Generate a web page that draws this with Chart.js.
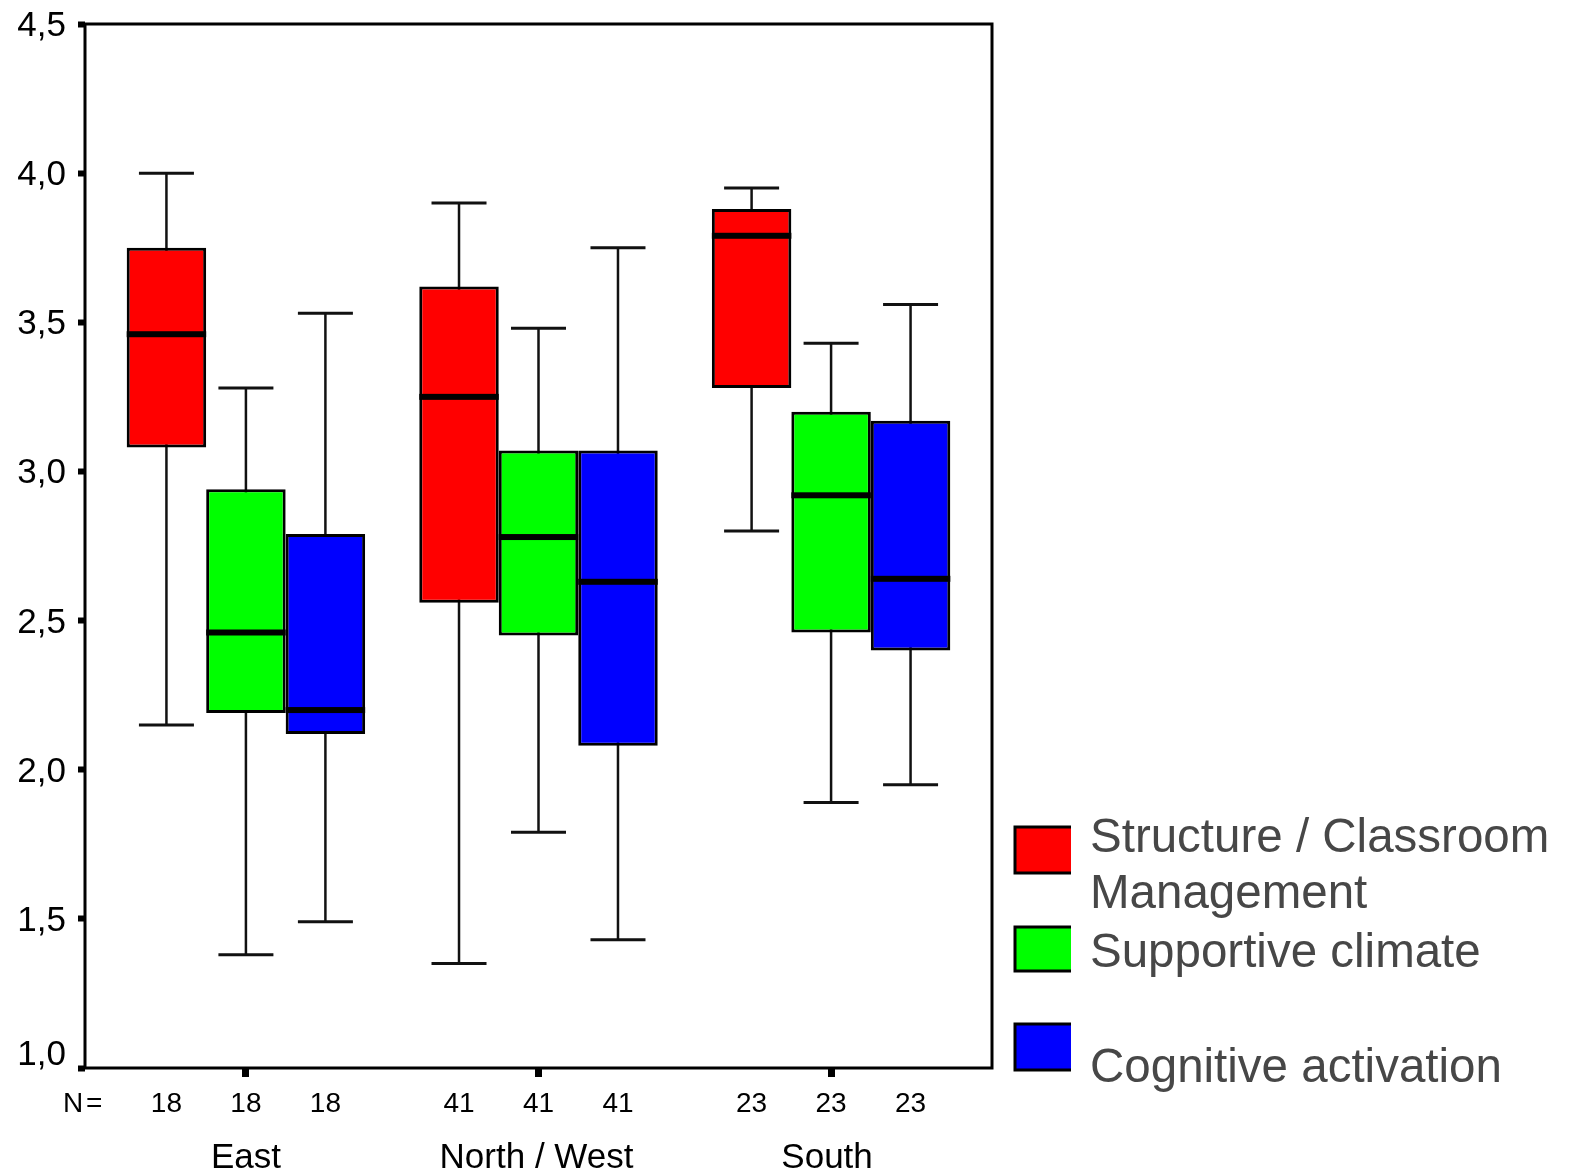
<!DOCTYPE html>
<html>
<head>
<meta charset="utf-8">
<title>Box plot by region</title>
<script src="https://cdn.jsdelivr.net/npm/chart.js@4.4.0/dist/chart.umd.min.js"></script>
<style>
    html, body { margin: 0; padding: 0; background: #ffffff; }
    #wrap { position: relative; width: 1569px; height: 1174px; }
</style>
</head>
<body>
<div id="wrap"><canvas id="boxChart"></canvas></div>
<script>
// Categories and group sizes
const regions = ['East', 'North / West', 'South'];
const counts = [18, 41, 23];

// Series
const seriesNames = [['Structure / Classroom', 'Management'], ['Supportive climate'], ['Cognitive activation']];
const seriesColors = ['#ff0000', '#00ff00', '#0000ff'];

// Y tick labels
const yTickValues = [1.0, 1.5, 2.0, 2.5, 3.0, 3.5, 4.0, 4.5];
const yTickLabels = ['1,0', '1,5', '2,0', '2,5', '3,0', '3,5', '4,0', '4,5'];

// Five-number summaries, one value per region
const structureMin = [2.15, 1.35, 2.80];
const structureQ1 = [3.08, 2.56, 3.28];
const structureMedian = [3.46, 3.25, 3.79];
const structureQ3 = [3.75, 3.62, 3.88];
const structureMax = [4.00, 3.90, 3.95];

const climateMin = [1.38, 1.79, 1.89];
const climateQ1 = [2.19, 2.45, 2.46];
const climateMedian = [2.46, 2.78, 2.92];
const climateQ3 = [2.94, 3.07, 3.20];
const climateMax = [3.28, 3.48, 3.43];

const cognitiveMin = [1.49, 1.43, 1.95];
const cognitiveQ1 = [2.12, 2.08, 2.40];
const cognitiveMedian = [2.20, 2.63, 2.64];
const cognitiveQ3 = [2.79, 3.07, 3.17];
const cognitiveMax = [3.53, 3.75, 3.56];

function makeBoxDataset(idx, q1, q3, min, max, median) {
    return {
        label: seriesNames[idx].join(' '),
        data: regions.map((r, i) => ({ x: i, y: [q1[i], q3[i]] })),
        whiskerLow: min,
        whiskerHigh: max,
        medians: median,
        backgroundColor: seriesColors[idx],
        borderColor: '#000000',
        borderWidth: 3,
        borderSkipped: false,
        barPercentage: 1,
        categoryPercentage: 0.815
    };
}

// Whiskers, medians, frame, labels and legend
const boxPlotExtras = {
    id: 'boxPlotExtras',
    beforeDatasetsDraw(chart) {
        const ctx = chart.ctx;
        const y = chart.scales.y;
        ctx.save();
        ctx.strokeStyle = '#111111';
        chart.data.datasets.forEach((ds, di) => {
            chart.getDatasetMeta(di).data.forEach((bar, i) => {
                const top = y.getPixelForValue(ds.whiskerHigh[i]);
                const bottom = y.getPixelForValue(ds.whiskerLow[i]);
                ctx.lineWidth = 2.5;
                ctx.beginPath();
                ctx.moveTo(bar.x, top);
                ctx.lineTo(bar.x, bottom);
                ctx.stroke();
                ctx.lineWidth = 3;
                ctx.beginPath();
                ctx.moveTo(bar.x - 27.5, top);
                ctx.lineTo(bar.x + 27.5, top);
                ctx.moveTo(bar.x - 27.5, bottom);
                ctx.lineTo(bar.x + 27.5, bottom);
                ctx.stroke();
            });
        });
        ctx.restore();
    },
    afterDatasetsDraw(chart) {
        const ctx = chart.ctx;
        const y = chart.scales.y;
        ctx.save();
        ctx.fillStyle = '#000000';
        chart.data.datasets.forEach((ds, di) => {
            chart.getDatasetMeta(di).data.forEach((bar, i) => {
                const my = y.getPixelForValue(ds.medians[i]);
                ctx.fillRect(bar.x - bar.width / 2, my - 3, bar.width, 6);
            });
        });
        ctx.restore();
    },
    afterDraw(chart) {
        const ctx = chart.ctx;
        const area = chart.chartArea;
        const x = chart.scales.x;
        const y = chart.scales.y;
        ctx.save();

        // frame
        ctx.strokeStyle = '#000000';
        ctx.lineWidth = 3;
        ctx.strokeRect(area.left, area.top, area.right - area.left, area.bottom - area.top);

        // y tick labels
        ctx.fillStyle = '#000000';
        ctx.font = '35px "Liberation Sans", Arial, sans-serif';
        ctx.textAlign = 'right';
        ctx.textBaseline = 'alphabetic';
        yTickValues.forEach((v, i) => {
            const py = y.getPixelForValue(v);
            const base = i === 0 ? py - 3 : py + 12;
            ctx.fillText(yTickLabels[i], 66, base);
        });

        // N = row
        ctx.font = '28px "Liberation Sans", Arial, sans-serif';
        ctx.textAlign = 'left';
        ctx.fillText('N', 63, 1112);
        ctx.fillText('=', 86, 1112);
        ctx.textAlign = 'center';
        chart.data.datasets.forEach((ds, di) => {
            chart.getDatasetMeta(di).data.forEach((bar, i) => {
                ctx.fillText(String(counts[i]), bar.x, 1112);
            });
        });

        // region labels
        ctx.font = '35px "Liberation Sans", Arial, sans-serif';
        regions.forEach((r, i) => {
            ctx.fillText(r, x.getPixelForValue(i) - 2 * i, 1168);
        });

        // legend
        const boxTops = [827, 927, 1024];
        const boxHeights = [46, 44, 46];
        const textBase = [[852, 908], [967], [1082]];
        ctx.font = '47.5px "Liberation Sans", Arial, sans-serif';
        ctx.textAlign = 'left';
        seriesNames.forEach((lines, i) => {
            const bx = 1015, bw = 56, by = boxTops[i], bh = boxHeights[i];
            ctx.fillStyle = seriesColors[i];
            ctx.fillRect(bx, by, bw, bh);
            ctx.strokeStyle = '#000000';
            ctx.lineWidth = 3;
            ctx.beginPath();
            ctx.moveTo(bx + bw, by);
            ctx.lineTo(bx, by);
            ctx.lineTo(bx, by + bh);
            ctx.lineTo(bx + bw, by + bh);
            ctx.stroke();
            ctx.fillStyle = '#474747';
            lines.forEach((t, k) => ctx.fillText(t, 1090, textBase[i][k]));
        });

        ctx.restore();
    }
};

const ctx = document.getElementById('boxChart');

new Chart(ctx, {
    type: 'bar',
    data: {
        datasets: [
            makeBoxDataset(0, structureQ1, structureQ3, structureMin, structureMax, structureMedian),
            makeBoxDataset(1, climateQ1, climateQ3, climateMin, climateMax, climateMedian),
            makeBoxDataset(2, cognitiveQ1, cognitiveQ3, cognitiveMin, cognitiveMax, cognitiveMedian)
        ]
    },
    options: {
        responsive: true,
        maintainAspectRatio: false,
        animation: false,
        layout: {
            padding: { top: 24, right: 577, bottom: 0, left: 0 }
        },
        plugins: {
            legend: { display: false },
            tooltip: { enabled: false }
        },
        scales: {
            x: {
                type: 'linear',
                min: -0.55,
                max: 2.55,
                offset: false,
                ticks: { display: false },
                afterBuildTicks: function(scale) {
                    scale.ticks = regions.map((r, i) => ({ value: i }));
                },
                grid: {
                    offset: false,
                    drawOnChartArea: false,
                    drawTicks: true,
                    tickLength: 9,
                    tickWidth: 7,
                    tickColor: '#000000'
                },
                border: { display: false },
                afterFit: function(scale) { scale.height = 106; }
            },
            y: {
                min: 1,
                max: 4.5,
                ticks: { display: false, stepSize: 0.5 },
                grid: {
                    drawOnChartArea: false,
                    drawTicks: true,
                    tickLength: 7,
                    tickWidth: 6,
                    tickColor: '#000000'
                },
                border: { display: false },
                afterFit: function(scale) { scale.width = 85; }
            }
        }
    },
    plugins: [boxPlotExtras]
});
</script>
</body>
</html>
